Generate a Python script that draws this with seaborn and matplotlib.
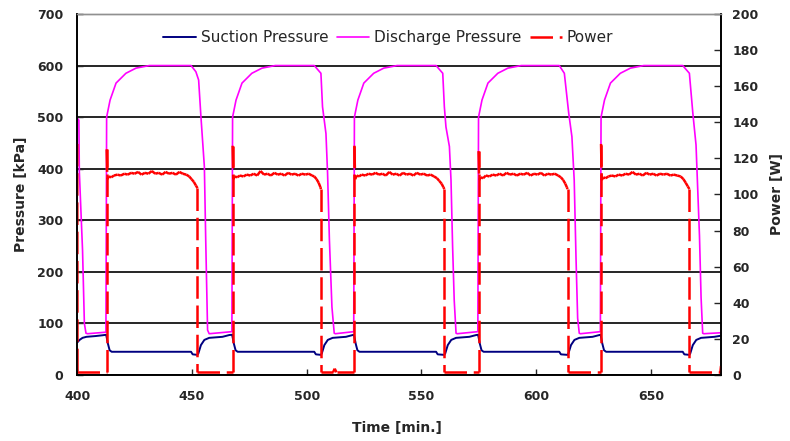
import matplotlib
matplotlib.use("Agg")
import matplotlib.pyplot as plt
import seaborn as sns
import pandas as pd

# --- data --------------------------------------------------------------------
# Suction pressure [kPa]
suction_time = [400.0, 401.0, 402.3, 404.0, 408.0, 411.0, 412.6,
                413.4, 414.1, 415.0, 449.6, 450.3, 452.4, 452.8, 453.9, 455.4, 457.5, 463.3, 466.3, 467.5,
                468.3, 469.0, 469.9, 503.3, 504.0, 506.2, 506.6, 507.7, 509.2, 511.3, 517.1, 520.1, 520.6,
                521.4, 522.1, 523.0, 556.4, 557.1, 560.0, 560.4, 561.5, 563.0, 565.1, 570.9, 573.9, 574.7,
                575.5, 576.2, 577.1, 610.1, 610.8, 613.7, 614.1, 615.2, 616.7, 618.8, 624.6, 627.6, 628.1,
                628.9, 629.6, 630.5, 663.9, 664.6, 666.8, 667.2, 668.3, 669.8, 671.9, 677.7, 681.0]
suction_kpa = [63, 68, 72, 74, 75.5, 77, 78,
               60, 48, 45, 45, 40, 39, 42, 58, 68, 72, 74, 77.5, 78,
               60, 48, 45, 45, 40, 39, 42, 58, 68, 72, 74, 77.5, 78,
               60, 48, 45, 45, 40, 39, 42, 58, 68, 72, 74, 77.5, 78,
               60, 48, 45, 45, 40, 39, 42, 58, 68, 72, 74, 77.5, 78,
               60, 48, 45, 45, 40, 39, 42, 58, 68, 72, 74, 76.5]

# Discharge pressure [kPa]
discharge_time = [400.0, 400.7, 400.9, 402.3, 403.1, 403.8, 404.5, 412.5,
                  412.8, 414.3, 416.9, 421.2, 425.6, 431.4, 449.6, 451.7, 452.9, 453.9, 455.4, 456.0, 456.8, 457.5, 467.4,
                  467.7, 469.2, 471.8, 476.1, 480.5, 486.3, 503.3, 506.2, 506.9, 508.4, 509.1, 509.9, 511.0, 512.0, 512.5, 520.5,
                  520.8, 522.3, 524.9, 529.2, 533.6, 539.4, 556.4, 559.3, 560.0, 560.7, 562.2, 562.9, 563.6, 564.3, 565.1, 565.6, 574.6,
                  574.9, 576.4, 579.0, 583.3, 587.7, 593.5, 610.1, 612.3, 614.2, 615.6, 616.6, 617.4, 618.1, 618.8, 619.3, 628.0,
                  628.3, 629.8, 632.4, 636.7, 641.1, 646.9, 663.9, 666.8, 668.3, 669.7, 671.2, 671.9, 672.6, 673.1, 681.0]
discharge_kpa = [498, 494, 394, 242, 100, 81, 80, 83,
                 500, 533, 566, 585, 595, 600, 600, 588, 572, 501, 404, 260, 87, 80, 84,
                 500, 533, 566, 585, 595, 600, 600, 585, 520, 468, 391, 262, 132, 81, 80, 84,
                 500, 533, 566, 585, 595, 600, 600, 585, 520, 481, 443, 378, 249, 145, 81, 80, 84,
                 500, 533, 566, 585, 595, 600, 600, 585, 508, 462, 378, 225, 110, 81, 80, 84,
                 500, 533, 566, 585, 595, 600, 600, 585, 508, 446, 270, 150, 81, 80, 82]

# Power [W]
power_time = [400.0, 400.1, 412.8,
              412.8, 413.1, 413.8, 414.8, 416.0, 417.5, 419.0, 420.5, 422.0, 423.5, 425.0, 426.5, 428.0, 429.5,
              431.0, 432.5, 434.0, 435.5, 437.0, 438.5, 440.0, 441.5, 443.0, 444.5, 446.0, 447.5, 448.8, 449.8,
              450.8, 451.7, 452.4, 452.4, 467.7,
              467.7, 468.0, 468.7, 469.7, 470.9, 472.4, 473.9, 475.4, 476.9, 478.4, 479.9, 481.4, 482.9, 484.4,
              485.9, 487.4, 488.9, 490.4, 491.9, 493.4, 494.9, 496.4, 497.9, 499.4, 500.9, 502.3, 503.3, 504.3,
              505.2, 506.0, 506.2, 506.2, 511.5, 512.2, 513.0, 520.8,
              520.8, 521.1, 521.8, 522.8, 524.0, 525.5, 527.0, 528.5, 530.0, 531.5, 533.0, 534.5, 536.0, 537.5,
              539.0, 540.5, 542.0, 543.5, 545.0, 546.5, 548.0, 549.5, 551.0, 552.5, 554.0, 555.5, 556.8, 557.8,
              558.8, 559.6, 560.0, 560.0, 574.9,
              574.9, 575.2, 575.9, 576.9, 578.1, 579.6, 581.1, 582.6, 584.1, 585.6, 587.1, 588.6, 590.1, 591.6,
              593.1, 594.6, 596.1, 597.6, 599.1, 600.6, 602.1, 603.6, 605.1, 606.6, 608.1, 609.6, 610.8, 611.8,
              612.7, 613.4, 613.7, 613.7, 628.3,
              628.3, 628.6, 629.3, 630.3, 631.5, 633.0, 634.5, 636.0, 637.5, 639.0, 640.5, 642.0, 643.5, 645.0,
              646.5, 648.0, 649.5, 651.0, 652.5, 654.0, 655.5, 657.0, 658.5, 660.0, 661.5, 663.0, 664.2, 665.2,
              666.1, 666.8, 666.8, 680.3, 680.6]
power_w = [128, 1.5, 1.5,
           125, 108.5, 110, 109.5, 110.5, 111, 110.5, 111.5, 111, 112, 111.5, 112.5, 111, 112,
           111.5, 113, 111.5, 112, 111, 112.5, 111.5, 112, 111, 112.5, 111.5, 111, 110, 108.5,
           107, 105, 103.5, 1.5, 1.5,
           127, 108.5, 110, 109.5, 110.5, 110, 111, 110.5, 111.5, 110.5, 113, 111, 111.5, 110.5,
           112, 111, 111.5, 110.5, 112, 111, 111.5, 110.5, 111.5, 111, 111.5, 110.5, 110, 108.5,
           106.5, 104, 103, 1.5, 1.5, 3.5, 1.5, 1.5,
           127, 108.5, 110.5, 110, 111, 110.5, 111.5, 111, 112, 111, 111.5, 110.5, 112.5, 111,
           111.5, 110.5, 112, 111, 111.5, 110.5, 112, 111, 111.5, 110.5, 111, 110, 109, 107.5,
           106, 104, 103, 1.5, 1.5,
           124, 108, 109.5, 109, 110.5, 110, 111, 110.5, 111.5, 110.5, 112, 111, 111.5, 110.5,
           111.5, 111, 112, 110.5, 111.5, 111, 112, 110.5, 111.5, 111, 111.5, 110.5, 109.5, 108,
           106, 104, 103, 1.5, 1.5,
           128, 108, 109.5, 109, 110, 110.5, 110, 111, 110.5, 111.5, 111, 112.5, 111, 111.5,
           110.5, 112, 111, 111.5, 110.5, 111.5, 111, 111.5, 110.5, 111, 110.5, 110, 108.5, 106.5,
           104.5, 103, 1.5, 1.5, 5]

x_ticks = [400, 450, 500, 550, 600, 650]
pressure_ticks = [0, 100, 200, 300, 400, 500, 600, 700]
power_ticks = [0, 20, 40, 60, 80, 100, 120, 140, 160, 180, 200]

series_names = ["Suction Pressure", "Discharge Pressure", "Power"]
series_colors = ["#000080", "#FF00FF", "#FF0000"]

# --- style ----------------------------------------------------------------------
sns.set_style("white")
plt.rcParams["font.family"] = ["DejaVu Sans"]
plt.rcParams["font.weight"] = "bold"

fig = plt.figure(figsize=(7.9, 4.41), dpi=100)
ax = fig.add_axes([0.0978, 0.1497, 0.8152, 0.8186])
ax2 = ax.twinx()

suction = pd.DataFrame({"t": suction_time, "p": suction_kpa})
discharge = pd.DataFrame({"t": discharge_time, "p": discharge_kpa})

sns.lineplot(data=suction, x="t", y="p", ax=ax, color=series_colors[0],
             lw=1.4, sort=False, estimator=None)
sns.lineplot(data=discharge, x="t", y="p", ax=ax, color=series_colors[1],
             lw=1.2, sort=False, estimator=None)

# power: one line per segment so the dash pattern restarts at each point,
# which is how the source chart draws it (noisy plateau looks solid)
seg_t, seg_w, seg_id = [], [], []
for i in range(len(power_time) - 1):
    seg_t += [power_time[i], power_time[i + 1]]
    seg_w += [power_w[i], power_w[i + 1]]
    seg_id += [i, i]
power_segs = pd.DataFrame({"t": seg_t, "w": seg_w, "seg": seg_id})
sns.lineplot(data=power_segs, x="t", y="w", units="seg", estimator=None, sort=False,
             ax=ax2, color=series_colors[2], lw=1.8, linestyle=(0, (9, 2.7)))

# --- axes -----------------------------------------------------------------------
ax.set_xlim(400, 680.7)
ax.set_ylim(0, 700)
ax2.set_ylim(0, 200)
ax.set_xticks(x_ticks)
ax.set_yticks(pressure_ticks)
ax2.set_yticks(power_ticks)

ax.yaxis.grid(True, color="black", lw=1.2)
ax.xaxis.grid(False)
ax.set_axisbelow(True)
ax.get_ygridlines()[-1].set_visible(False)

for a in (ax, ax2):
    for side in ("left", "bottom", "right"):
        a.spines[side].set_color("black")
        a.spines[side].set_linewidth(1.2)
    a.spines["top"].set_color("#909090")
    a.spines["top"].set_linewidth(1.0)

ax.tick_params(axis="x", direction="in", length=4, width=1, pad=11, labelsize=9, bottom=True)
ax.tick_params(axis="y", direction="in", length=4, width=1, pad=10, labelsize=9, left=True)
ax2.tick_params(axis="y", direction="in", length=5, width=1, pad=8, labelsize=9, right=True)

ax.set_xlabel("Time [min.]", fontsize=10, fontweight="bold")
ax.set_ylabel("Pressure [kPa]", fontsize=10, fontweight="bold")
ax2.set_ylabel("Power [W]", fontsize=10, fontweight="bold")
ax.xaxis.set_label_coords(0.496, -0.127)
ax.yaxis.set_label_coords(-0.0766, 0.5)
ax2.yaxis.set_label_coords(1.0756, 0.5)

handles = [ax.lines[0], ax.lines[1], ax2.lines[0]]
ax2.legend(handles, series_names, loc="center", bbox_to_anchor=(0.483, 0.9335),
           ncol=3, frameon=False, borderpad=0, handlelength=2.1, handletextpad=0.33,
           columnspacing=0.55, prop={"size": 11, "weight": "normal"})

fig.savefig("out.png", dpi=100)
